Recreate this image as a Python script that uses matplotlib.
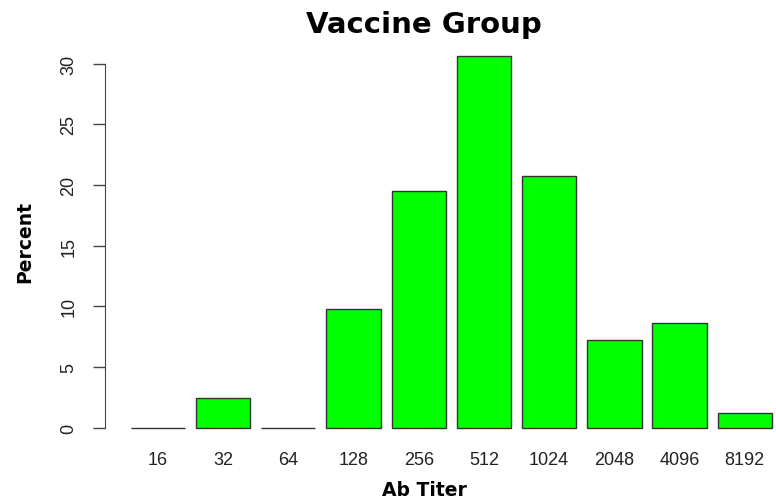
import matplotlib
matplotlib.use("Agg")
import matplotlib.pyplot as plt
import numpy as np

titers = ["16", "32", "64", "128", "256", "512", "1024", "2048", "4096", "8192"]
percent = [0.0, 2.4, 0.0, 9.8, 19.5, 30.6, 20.7, 7.2, 8.6, 1.2]

fig = plt.figure(figsize=(7.76, 5.02), dpi=100)
ax = fig.add_axes([105/776, (502-443.4)/502, (797.6-105)/776, (443.4-42.5)/502])

n = len(titers)
centers = 0.7 + 1.2*np.arange(n)
ax.bar(centers, percent, width=1.0, color="#00ff00", edgecolor="#333333", linewidth=1.0)

ax.set_xlim(-0.272, 12.472)
ax.set_ylim(-1.224, 31.82)

for s in ["top", "right", "bottom"]:
    ax.spines[s].set_visible(False)
ax.spines["left"].set_bounds(0, 30)
ax.spines["left"].set_color("#444444")
ax.set_yticks([0, 5, 10, 15, 20, 25, 30])
ax.set_yticklabels(["0", "5", "10", "15", "20", "25", "30"], rotation=90, va="center",
                   family="Liberation Sans", fontsize=13, color="#222222")
ax.tick_params(axis="y", length=9, width=1, color="#444444", pad=11)
ax.set_xticks(centers)
ax.set_xticklabels(titers, family="Liberation Sans", fontsize=13, color="#222222")
ax.tick_params(axis="x", length=0, pad=6)

fig.text(424/776, 1-25/502, "Vaccine Group", ha="center", va="center",
         fontsize=21, fontweight="bold", family="DejaVu Sans")
fig.text(424/776, 1-491/502, "Ab Titer", ha="center", va="center",
         fontsize=13.5, fontweight="bold", family="DejaVu Sans")
fig.text(25/776, 1-242/502, "Percent", ha="center", va="center", rotation=90,
         fontsize=13.5, fontweight="bold", family="DejaVu Sans")

fig.savefig("out.png", dpi=100)
